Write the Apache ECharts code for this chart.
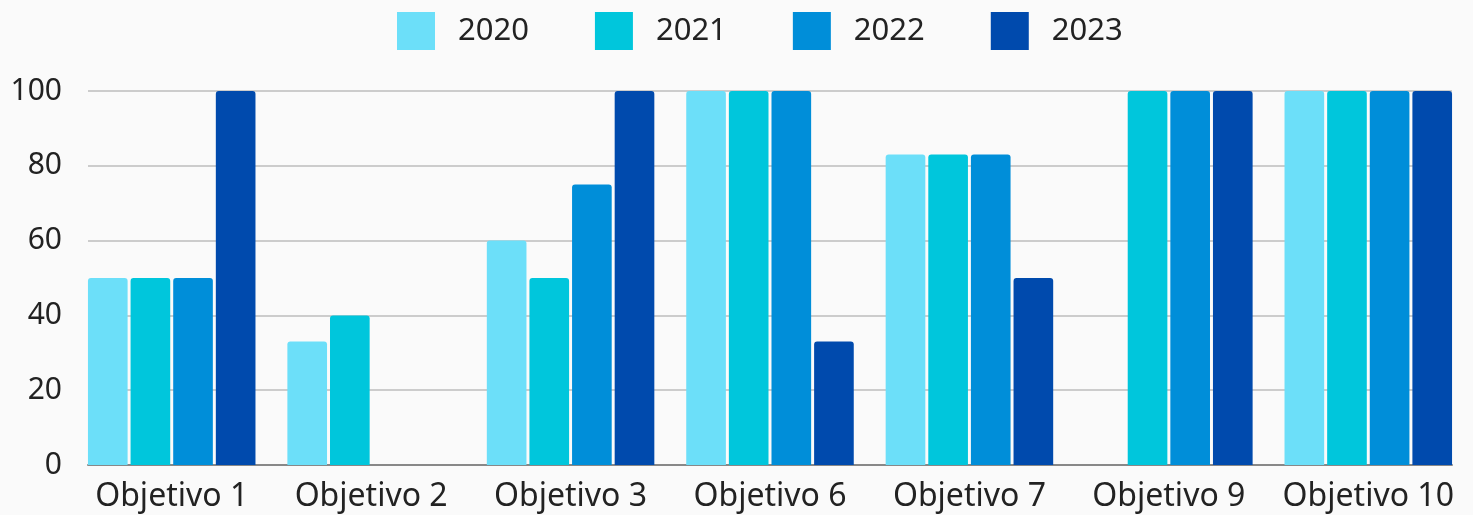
<!DOCTYPE html>
<html>
<head>
<meta charset="utf-8">
<script src="https://cdn.jsdelivr.net/npm/echarts@6/dist/echarts.min.js"></script>
<style>
  html, body { margin: 0; padding: 0; background: #fafafa; }
  #chart { width: 1473px; height: 515px; }
</style>
</head>
<body>
<div id="chart"></div>
<script>
// data
const categories = ['Objetivo 1', 'Objetivo 2', 'Objetivo 3', 'Objetivo 6', 'Objetivo 7', 'Objetivo 9', 'Objetivo 10']
const years = ['2020', '2021', '2022', '2023']
const values2020 = [50, 33, 60, 100, 83, 0, 100]
const values2021 = [50, 40, 50, 100, 83, 100, 100]
const values2022 = [50, 0, 75, 100, 83, 100, 100]
const values2023 = [100, 0, 100, 33, 50, 100, 100]
const yTicks = [0, 20, 40, 60, 80, 100]

const colors = ['#6cdff9', '#00c6dc', '#008ed9', '#004aad']
const font = 'Noto Sans'

const chart = echarts.init(document.getElementById('chart'))

const seriesData = [values2020, values2021, values2022, values2023]

const option = {
  backgroundColor: '#fafafa',
  animation: false,
  legend: {
    data: years,
    left: 397,
    top: 12,
    padding: 0,
    itemWidth: 38,
    itemHeight: 38,
    itemGap: 66,
    icon: 'rect',
    textStyle: {
      fontFamily: font,
      fontSize: 31,
      color: '#222',
      padding: [0, 0, 0, 18]
    }
  },
  grid: [
    // bars grid (category bands spread a bit beyond the axis lines)
    { left: 72, right: 5, top: 91, bottom: 50 },
    // axis / gridline grid
    { left: 88, right: 21, top: 91, bottom: 50 }
  ],
  xAxis: [
    {
      type: 'category',
      gridIndex: 0,
      data: categories,
      axisLine: { show: false },
      axisTick: { show: false },
      axisLabel: {
        interval: 0,
        fontFamily: font,
        fontSize: 32,
        color: '#222',
        margin: 16
      }
    },
    {
      type: 'value',
      gridIndex: 1,
      min: 0,
      max: 1,
      axisLine: { show: true, lineStyle: { color: '#888', width: 2 } },
      axisTick: { show: false },
      axisLabel: { show: false },
      splitLine: { show: false }
    }
  ],
  yAxis: [
    {
      type: 'value',
      gridIndex: 0,
      min: 0,
      max: 100,
      interval: 20,
      axisLine: { show: false },
      axisTick: { show: false },
      axisLabel: { show: false },
      splitLine: { show: false }
    },
    {
      type: 'value',
      gridIndex: 1,
      min: 0,
      max: 100,
      interval: 20,
      axisLine: { show: false },
      axisTick: { show: false },
      axisLabel: {
        fontFamily: font,
        fontSize: 30,
        color: '#222',
        margin: 26,
        formatter: v => (yTicks.includes(v) ? String(v) : '')
      },
      splitLine: { lineStyle: { color: '#cccccc', width: 2 } }
    }
  ],
  series: years.map((y, i) => ({
    name: y,
    type: 'bar',
    xAxisIndex: 0,
    yAxisIndex: 0,
    data: seriesData[i],
    barGap: '7.5%',
    barCategoryGap: '16%',
    itemStyle: { color: colors[i], borderRadius: [3, 3, 0, 0] },
    z: 3
  }))
}

chart.setOption(option)
</script>
</body>
</html>
